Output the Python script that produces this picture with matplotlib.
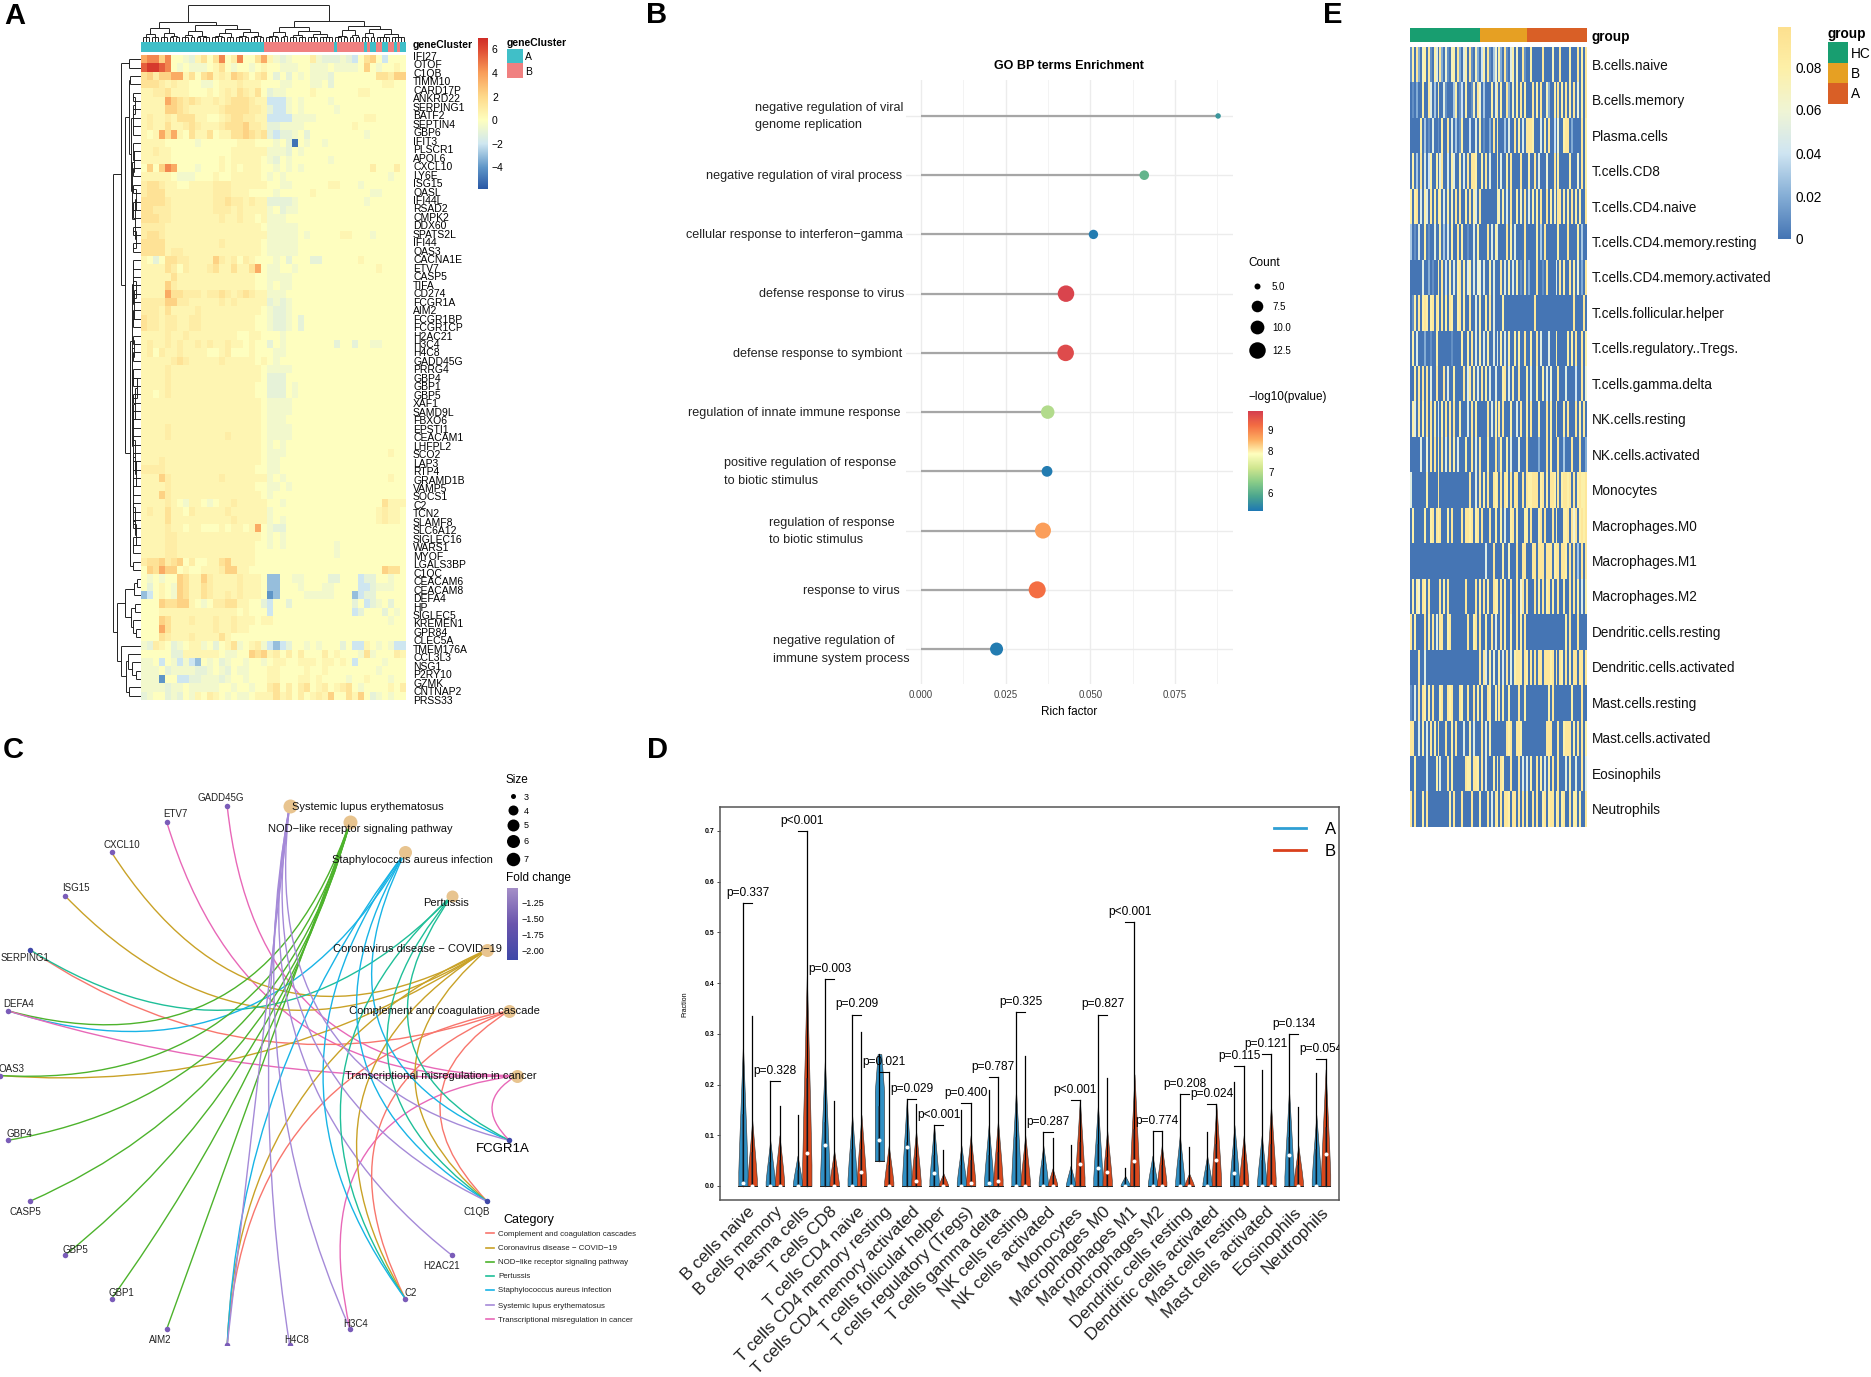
import numpy as np
import matplotlib
matplotlib.use("Agg")
import matplotlib.pyplot as plt
from matplotlib.colors import LinearSegmentedColormap, ListedColormap
from matplotlib.path import Path
from matplotlib.patches import PathPatch, Rectangle

W, H = 1871, 1377
plt.rcParams['font.family'] = ['Liberation Sans', 'DejaVu Sans']

# ---------- panel A data ----------
genes_a = ["IFI27", "OTOF", "C1QB", "TIMM10", "CARD17P", "ANKRD22", "SERPING1", "BATF2", "SEPTIN4", "GBP6",
           "IFIT3", "PLSCR1", "APOL6", "CXCL10", "LY6E", "ISG15", "OASL", "IFI44L", "RSAD2", "CMPK2", "DDX60",
           "SPATS2L", "IFI44", "OAS3", "CACNA1E", "ETV7", "CASP5", "TIFA", "CD274", "FCGR1A", "AIM2", "FCGR1BP",
           "FCGR1CP", "H2AC21", "H3C4", "H4C8", "GADD45G", "PRRG4", "GBP4", "GBP1", "GBP5", "XAF1", "SAMD9L",
           "FBXO6", "EPSTI1", "CEACAM1", "LHFPL2", "SCO2", "LAP3", "RTP4", "GRAMD1B", "VAMP5", "SOCS1", "C2",
           "TCN2", "SLAMF8", "SLC6A12", "SIGLEC16", "WARS1", "MYOF", "LGALS3BP", "C1QC", "CEACAM6", "CEACAM8",
           "DEFA4", "HP", "SIGLEC5", "KREMEN1", "GPR84", "CLEC5A", "TMEM176A", "CCL3L3", "NSG1", "P2RY10",
           "GZMK", "CNTNAP2", "PRSS33"]
# one letter per block of columns, a=-5 ... g=0 ... o=+6.5
heat_a_rows = [
    "lmmkmggfehjgjmgimggjl" "hfefgggifeeefedgjkgdggg",
    "noonmgfgfffghjgfggfgh" "ggfffggfffgffffgkgfgghg",
    "jkikkllhjgjkhihkjigij" "gegegfgfffegggggggjjikk",
    "jjjihihhggffghhhihhhg" "ggffgggffgegggggggghhgg",
    "hhiijhhhggghghihjihjg" "effgggghggggggghhgggggg",
    "hhhhlkjijihhihijjjihh" "dddfgfggggfgggggggggggg",
    "hhhhkkjihhhhhijjjjiih" "eddfgfgggggfggggggggggg",
    "hihhihjjjhhgghijjiihh" "ddddffffgggggggghhggggg",
    "hihhjhhijihhhijjjkiih" "eeffffgggggggghgggggggg",
    "hghljlhgjhhjghhjjkjij" "edeefgegggggggggfgggggg",
    "hhhhgggggfgggggghhhgg" "gfgeagfggfggggggggggggg",
    "hhihhgggggggggghhhhhh" "fffegfggggggggggggggggg",
    "hhhhhgggggggghghhhhhg" "fegfggggggfgggggggggggg",
    "gkgkmlgggfggghghghhhg" "gfgfgfgggggggggggigggig",
    "hhhhhgfffggghgghhhhhg" "fgfgggggggggggggggggfgg",
    "ijjihhgghhhhiiihhhhhh" "ggffgggggghhgggfggggggg",
    "ijjjhhhhhhhhiiihhhggg" "gfggggghgggggggggffgggg",
    "jjjjihhhhhhhiijiihihh" "eeeefgggggggggggfgggggg",
    "jjiiihhhhhhhiiihihhhh" "fgeffgggggggggggggggggg",
    "jjjiihhhhhhhhihhihhgh" "fffgggggggggggggggggggg",
    "iiiihhhhhhhhhhhhhhhhg" "fffffgggggggggggggggggg",
    "ijjihhhhhhhhhhhhhhhhh" "fffffgfggggghhgggfggggg",
    "jjjjhhhhhhhhhihhhhhhg" "fffffgggggggggggggggggg",
    "jjjjhiihhhhhhhhhhhhhg" "fffffgggggggggggggggggg",
    "hgegjjiihhhhkihigihgg" "gfgegggeegggggghggggggg",
    "hhhhjigihhhijhhjhhjlg" "ffggfggggggggggggghgggg",
    "hhhhhjhhhhhhhhhhhhhgg" "ffffggggggggggggggggggg",
    "hhhhkihhhhhhhhhhhhhgg" "fgffggggggggggggggggggg",
    "hhhhljjiiihiijihijihh" "fffgggggggggggggggggggg",
    "iiiikkiihhhhhihihhhhh" "efefggggggggggggggggggg",
    "iiihjhhhhihhhhhhhhhhg" "feefggggggggggggggggggg",
    "jiihiihhiihhhhhhhhhgg" "feefgegggggggggggggggg",
    "jiihiihhiihhhhhhhhhgg" "feefgegggggggggggggggg",
    "hhhhihhihhhhhhhhgghhg" "ggfgggggggggggggggggggg",
    "hihhihihhihihhihhghgg" "egfggggggggeggeggffgggg",
    "higihhihhhhgghiggghgg" "gffgggggggggggggggggggg",
    "hhhhhijihhhhhihhhhhgh" "gfgggggggggggggggggggg",
    "hhhhihhhhhhhhhhhhhhhg" "ffffggggggggggggggggggg",
    "hhhhihhhhhhhhhhhhhhhg" "eeegggggggggggggggggggg",
    "hhhhihhhhhhhhhhhhhhgg" "eeegfggggggggggggggggg",
    "hhghihhhhhhhhhhhhhhgg" "eeegfggggggggggggggggg",
    "hhhhhhhhhhhhhhhhhhhhg" "ffffggggggggggggggggggg",
    "hhhhhhhhhhhhhhhhhhhhg" "ffffggggggggggggggggggg",
    "hhhhhhhhhhhhhhhhhhhhg" "fffgggggggggggggggggggg",
    "hhhhihhhhhhhhhhhhhhhg" "ffffggggggggggggggggggg",
    "hhhhihhhhhhhhhihhhhhg" "ffffggggggggggggggggggg",
    "hhhhhhhhhhhhhhhhhhhhg" "fgfgggggggggggggggggggg",
    "hhhhhhhhhhhhhhhhhhhhg" "fffggggggggggggggggghgg",
    "hhhihhhhhhhhhhhhhhhhg" "ffggggggggggggggggggggg",
    "iiiihhhhhhhhhhhhhhhgg" "ffgggggggggggggggggggg",
    "hhhkihhhhhhhhihhhhhhh" "fgfggggggggggggggggghgg",
    "hhhhihhhhhhhhhhhhhhgg" "ffgfggggggggggggggggggg",
    "hhhkihhhhhhhhhhhhhhhg" "fggggggggggggggggggggg",
    "hhhhihgfhhgfghhihhhhh" "ggfggggggggggggggggjhhh",
    "hihhjhhgihhhhhihhhhhh" "fggggggggggggggggghihhg",
    "hhhhjhhhhhhhhhhihhhhh" "fgfggggggggggggggghihhg",
    "hhhhihhghhggghghhghlg" "feeggggggggggggggggggg",
    "hhhhiihhhhhhhhhhhhhhg" "fgfggggggggggggggggggg",
    "hhhhiihhhhhhhhhhhhhgg" "fgfggggggggfgggggggggg",
    "hhhhiihhhhhhhhhhhhhgg" "gggggggggggfgggggggggg",
    "ijjkijkgigghhjkhhhhgg" "gggggggggggggggggggggg",
    "gkjlkkghgghhhikkhhggg" "gggggggggggggggggggkjj",
    "gfgfggkjhhkihhhhihhhg" "ccggffggggeegggdeeggfgg",
    "geghgfkjhhjihhhhihhhg" "ccgggfgggffggggddefffgg",
    "cdghgfkjhhjihhihihhhg" "bcggggfffffgggcdeegggg",
    "gggkjjkkhgfgiijjhhgge" "dggeggggggggggegdefgegg",
    "ggghhhhhhhhhhhhhghggg" "dgggggggggggggdegggegfg",
    "gggkjhhhihhhihhihhhgh" "hgggggggggggggggggggfgg",
    "gggljhhhhhhhihhihhggg" "gggggggggggggggggggggg",
    "gggjihhhihhhhjhgggggg" "gggggggggggggggggggggg",
    "feihgefghhfgeghjfghif" "dcdeggfgfgggegddhgfgfdd",
    "gggggeehhhhhhgffggkjk" "higigigggighgggfjfgggih",
    "ffgdgfdfdcgfgefggfggf" "ghhgghhhghhghgdggggfgg",
    "fffgeffffeefgfegffggg" "hhgggghgghggggggggfggg",
    "fffbggddeefffefggfggg" "hhggghhghggggfgghgggfg",
    "ffffeffgfffffggfggfgg" "ijgigijghighijgfgggghgi",
    "efggefegfhgihgfgffghh" "hjhigighihkggjhkgefgfgg",
]
letter_values = dict(zip("abcdefghijklmno", [-5, -4, -3, -2, -1, -0.5, 0, 0.5, 0.9, 1.5, 2.2, 3.5, 4.5, 5.5, 6.5]))
# runs of the geneCluster strip
cluster_runs = [(0, 41), (1, 23), (0, 1), (1, 9), (0, 1), (1, 1), (0, 2), (1, 2), (0, 2), (1, 2), (0, 1), (1, 1), (0, 2)]

col_tree = (37.4,
            (20, (14, (8, 3, 3), (9, 3, (6, 2, 2))),
             (17, (11, (7, 3, 2), (6, 2, 3)), (13, (9, (6, 3, 2), (5, 2, 1)), (10, (6, 3, 2), (6, 3, 2))))),
            (21.5, (15, (10, (6, 3, 2), (6, 2, 1)), (11, (7, 3, 3), (8, (5, 2, 2), (5, 3, 2)))),
             (16, (12, (6, 3, 2), (7, 2, 2)), (13, (9, 3, 2), (8, (5, 3, 2), (5, 2, 3))))))
tree_a = (10.5, (8, (6, 2, 2), 2), (9, (7, 3, 2), (6, (5, 2, 3), (5, 2, 2))))
tree_b = (11.5, (9.5, (8, 2, (7, (5, 2, 2), 3)), (9, (7, 2, 2), (8.5, (6, (4, 3, 2), 3),
                                                                  (8, (6, 2, (5, 3, 3)), (6.5, 2, (5, 2, 3)))))), (8, 1, 1))
row_tree = (28, (20.4, (12.5, 1, 1), (16, (12, (11, 1, 1), tree_a), tree_b)),
            (24, (16, (7, (4, 1, 1), 1), (10, (6, 1, 1), (8, 1, (5, 1, 1)))),
             (20, 1, (15, (13, 1, (9, 1, (5, 1, 1))), (12, 1, 1)))))

# ---------- panel B data ----------
go_terms = ["negative regulation of viral\ngenome replication", "negative regulation of viral process",
            "cellular response to interferon\u2212gamma", "defense response to virus", "defense response to symbiont",
            "regulation of innate immune response", "positive regulation of response\nto biotic stimulus",
            "regulation of response\nto biotic stimulus", "response to virus",
            "negative regulation of\nimmune system process"]
rich_factor = [0.0877, 0.0659, 0.0509, 0.0428, 0.0427, 0.0374, 0.0372, 0.0360, 0.0343, 0.0223]
go_count = [4, 5.5, 5.3, 12, 12, 9, 6.5, 11.5, 12.5, 8.5]
go_logp = [5.6, 6.1, 5.2, 9.8, 9.7, 6.9, 5.2, 8.7, 9.2, 5.2]
go_label_right = [589, 588, 588, 593, 587, 583, 575, 571, 581, 603]

# ---------- panel C data ----------
# order round the circle, starting at the Transcriptional node, going clockwise
circle_nodes = ["Transcriptional misregulation in cancer", "FCGR1A", "C1QB", "H2AC21", "C2", "H3C4", "H4C8", "",
                "AIM2", "GBP1", "GBP5", "CASP5", "GBP4", "OAS3", "DEFA4", "SERPING1", "ISG15", "CXCL10", "ETV7",
                "GADD45G", "Systemic lupus erythematosus", "NOD\u2212like receptor signaling pathway",
                "Staphylococcus aureus infection", "Pertussis", "Coronavirus disease \u2212 COVID\u221219",
                "Complement and coagulation cascade"]
TM, SLE, NOD = circle_nodes[0], circle_nodes[20], circle_nodes[21]
STA, PER, COV, COM = circle_nodes[22], circle_nodes[23], circle_nodes[24], circle_nodes[25]
gene_edges = {"GADD45G": [TM], "ETV7": [TM], "CXCL10": [COV], "ISG15": [COV], "SERPING1": [COM, PER],
              "DEFA4": [STA, NOD, TM], "OAS3": [COV, NOD], "GBP4": [NOD], "CASP5": [NOD], "GBP5": [NOD],
              "GBP1": [NOD], "AIM2": [NOD], "": [COM, COV, STA, SLE], "H4C8": [SLE], "H3C4": [SLE, TM],
              "H2AC21": [SLE], "C2": [COM, COV, PER, STA], "C1QB": [COM, COV, PER, STA, SLE],
              "FCGR1A": [STA, SLE, PER, TM]}
edge_colors = {COM: "#f8766d", COV: "#c9a227", NOD: "#4db32c", PER: "#1fbf98", STA: "#18b4e6", SLE: "#a58ad8", TM: "#e868b8"}
fold_change = {"SERPING1": -2.0, "C1QB": -2.05, "FCGR1A": -2.0}
category_size = {SLE: 7, NOD: 7, STA: 6, PER: 5, COV: 6, COM: 6, TM: 6}
legend_categories = ["Complement and coagulation cascades", "Coronavirus disease \u2212 COVID\u221219",
                     "NOD\u2212like receptor signaling pathway", "Pertussis", "Staphylococcus aureus infection",
                     "Systemic lupus erythematosus", "Transcriptional misregulation in cancer"]

# ---------- panel D data ----------
cell_types = ["B cells naive", "B cells memory", "Plasma cells", "T cells CD8", "T cells CD4 naive",
              "T cells CD4 memory resting", "T cells CD4 memory activated", "T cells follicular helper",
              "T cells regulatory (Tregs)", "T cells gamma delta", "NK cells resting", "NK cells activated",
              "Monocytes", "Macrophages M0", "Macrophages M1", "Macrophages M2", "Dendritic cells resting",
              "Dendritic cells activated", "Mast cells resting", "Mast cells activated", "Eosinophils", "Neutrophils"]
max_a = [.557, .207, .139, .408, .338, .26, .171, .12, .149, .19, .342, .107, .08, .338, .036, .109, .182, .107, .204, .229, .30, .223]
max_b = [.335, .158, .70, .167, .303, .224, .162, .07, .163, .215, .256, .095, .169, .212, .52, .109, .077, .161, .236, .26, .156, .25]
fill_a = [.28, .09, .06, .25, .14, .26, .17, .12, .08, .12, .19, .08, .04, .16, .02, .06, .10, .06, .12, .10, .19, .14]
fill_b = [.13, .10, .42, .07, .14, .08, .11, .025, .10, .13, .10, .035, .17, .11, .22, .08, .025, .16, .10, .16, .08, .23]
med_a = [.005, 0, 0, .08, 0, .09, .077, .025, 0, .005, 0, 0, 0, .035, 0, 0, 0, 0, .025, 0, .062, 0]
med_b = [0, 0, .066, 0, .027, 0, .01, 0, .005, .01, 0, 0, .043, .027, .049, 0, 0, .051, 0, 0, 0, .064]
floor_a = [0, 0, 0, 0, 0, .05, 0, 0, 0, 0, 0, 0, 0, 0, 0, 0, 0, 0, 0, 0, 0, 0]
bracket_y = [.557, .207, .70, .408, .338, .224, .171, .12, .163, .215, .342, .107, .169, .338, .52, .109, .182, .161, .236, .26, .30, .25]
p_labels = ["p=0.337", "p=0.328", "p<0.001", "p=0.003", "p=0.209", "p=0.021", "p=0.029", "p<0.001", "p=0.400", "p=0.787",
            "p=0.325", "p=0.287", "p<0.001", "p=0.827", "p<0.001", "p=0.774", "p=0.208", "p=0.024", "p=0.115", "p=0.121",
            "p=0.134", "p=0.054"]

# ---------- panel E data ----------
cells_e = ["B.cells.naive", "B.cells.memory", "Plasma.cells", "T.cells.CD8", "T.cells.CD4.naive", "T.cells.CD4.memory.resting",
           "T.cells.CD4.memory.activated", "T.cells.follicular.helper", "T.cells.regulatory..Tregs.", "T.cells.gamma.delta",
           "NK.cells.resting", "NK.cells.activated", "Monocytes", "Macrophages.M0", "Macrophages.M1", "Macrophages.M2",
           "Dendritic.cells.resting", "Dendritic.cells.activated", "Mast.cells.resting", "Mast.cells.activated",
           "Eosinophils", "Neutrophils"]
# fraction x 100 for each sample, read from left to right: HC, then B, then A
frac_rows = [
    "180920780910850920610780920580910720" "480910360820910580700910" "080000090000700090000800090809",
    "010200800950308005100038014080017096" "030008059080092070809080" "009080900720080908090809060809",
    "000008030105001080090503018000400508" "010020908000305009080509" "998000508090040600899020000908",
    "080309050480080590050850080509099800" "809050008050080900009000" "800905000600090800000800060908",
    "808905085090809805080709090080908509" "000000008708050900807090" "508080900908070990808090808009",
    "301050080100500803050800908001005080" "000905085000090805000090" "000080309000000800009000080300",
    "000000500201008090408050890805805066" "050080500090508050801080" "200090010900005090800908060209",
    "018090898089098090809800890800900508" "008090500008000000000000" "000900000000000000000009000090",
    "080500020010080000000100008008090508" "050800505080508008080090" "080090500050008000008080900908",
    "008090909050090009050080000905908050" "908050050008905080090008" "050080080506000900050000400906",
    "085090809090805080909090080005090800" "000905080909000800509008" "090008000908009000809000908090",
    "000005006090908090509080500080090509" "000800090180080500060009" "000002000908000900300090009002",
    "500000008000009000000000000000900509" "080900989090980909900909" "889990890809980908998909089889",
    "080000080089098900080900009099890890" "900090080080500890800088" "090008909000908000889096908989",
    "000000000000000000000000000000000000" "005000900008007000900990" "009909990999089909980909030909",
    "080860980900000908090000000090000908" "090800988090800900906909" "000908090890800900800909080508",
    "908000090809050990089000000009008909" "008009050090800800908090" "000000000000000000080900090000",
    "000090050000000000000000000000000009" "095080600805090508998098" "090909909998909098090809909909",
    "105090980809000890098900098009009080" "800980080908008000090080" "000000000080900000000080000900",
    "990050805090809000900809000500805000" "905080000000098900998000" "000000000999000900899908090908",
    "008000005000080500090800000098809980" "905000808098000900090505" "080090805080900900050800500905",
    "909000809000000000008090009000090008" "000905098090998099090908" "009090089089908908900908808009",
]

# ---------- helpers ----------
fig = plt.figure(figsize=(W / 100, H / 100), dpi=100, facecolor="white")


def px_axes(x0, y0, x1, y1):
    ax = fig.add_axes([x0 / W, 1 - y1 / H, (x1 - x0) / W, (y1 - y0) / H])
    return ax


def put(x, y, s, size=8, ha="left", va="center", **kw):
    return fig.text(x / W, 1 - (y + 1) / H, s, fontsize=size, ha=ha, va=va, **kw)


def draw_tree(ax, node, counter, comb, horizontal):
    # returns (leaf position, height); horizontal=True means heights run along x
    def seg(p0, h0, p1, h1):
        if horizontal:
            ax.plot([h0, h1], [p0, p1], color="#222222", lw=0.7, solid_capstyle="butt")
        else:
            ax.plot([p0, p1], [h0, h1], color="#222222", lw=0.7, solid_capstyle="butt")

    if isinstance(node, int):
        start = counter[0]
        counter[0] += node
        if node == 1:
            return start + 0.5, 0
        for k in range(node):
            seg(start + k + 0.5, 0, start + k + 0.5, comb)
        seg(start + 0.5, comb, start + node - 0.5, comb)
        return start + node / 2, comb
    h, left, right = node
    p0, h0 = draw_tree(ax, left, counter, comb, horizontal)
    p1, h1 = draw_tree(ax, right, counter, comb, horizontal)
    seg(p0, h0, p0, h)
    seg(p1, h1, p1, h)
    seg(p0, h, p1, h)
    return (p0 + p1) / 2, h


def colorbar(x0, y0, x1, y1, cmap, vmin, vmax):
    ax = px_axes(x0, y0, x1, y1)
    ax.imshow(np.linspace(vmax, vmin, 256)[:, None], aspect="auto", cmap=cmap, vmin=vmin, vmax=vmax)
    ax.axis("off")
    return ax


overlay = px_axes(0, 0, W, H)
overlay.set_xlim(0, W)
overlay.set_ylim(H, 0)
overlay.axis("off")
overlay.set_zorder(5)
overlay.patch.set_alpha(0)


def d2s(d_px):
    return (d_px * 0.72) ** 2


for letter, lx, ly in [("A", 4, 15), ("B", 646, 14), ("C", 3, 749), ("D", 647, 749), ("E", 1323, 14)]:
    put(lx, ly, letter, size=21, fontweight="bold")

# ---------- A ----------
vmin_a, vmax_a = -5.8, 6.9
stops = [(-5.8, "#2a58a6"), (-4, "#5f96c8"), (-2, "#cfe7f1"), (0, "#ffffbf"), (2, "#fed98a"), (4, "#f99d59"), (6, "#df4a33"), (6.9, "#d02d27")]
cmap_a = LinearSegmentedColormap.from_list("a", [((v - vmin_a) / (vmax_a - vmin_a), c) for v, c in stops])
heat_a = np.array([[letter_values[c] for c in row.ljust(44, "g")[:44]] for row in heat_a_rows])

ax = px_axes(141, 55, 406, 700)
ax.imshow(heat_a, aspect="auto", cmap=cmap_a, vmin=vmin_a, vmax=vmax_a, interpolation="nearest")
ax.axis("off")

strip = np.concatenate([np.full(n, v) for v, n in cluster_runs])
ax = px_axes(141, 42, 406, 52)
ax.imshow(strip[None, :], aspect="auto", cmap=ListedColormap(["#40bfc8", "#f08080"]), interpolation="nearest")
ax.axis("off")

ax = px_axes(141, 3, 406, 42)
ax.set_xlim(0, len(strip))
ax.set_ylim(0, 39)
ax.axis("off")
draw_tree(ax, col_tree, [0], 5, False)

ax = px_axes(112, 55, 141, 700)
ax.set_xlim(29, 0)
ax.set_ylim(len(genes_a), 0)
ax.axis("off")
draw_tree(ax, row_tree, [0], 8, True)

for i, g in enumerate(genes_a):
    put(413, 56 + 8.47 * i, g, size=7.5)
put(413, 44, "geneCluster", size=7.5, fontweight="bold")
colorbar(478, 38, 488, 189, cmap_a, vmin_a, vmax_a)
for v, yy in zip([6, 4, 2, 0, -2, -4], [49, 73, 97, 120, 144, 167]):
    put(492, yy, str(v).replace("-", "\u2212"), size=7.5)
put(507, 42, "geneCluster", size=7.5, fontweight="bold")
overlay.add_patch(Rectangle((507, 49), 16, 14, color="#40bfc8", lw=0))
overlay.add_patch(Rectangle((507, 63), 16, 15, color="#f08080", lw=0))
put(525, 56, "A", size=7.5)
put(525, 71, "B", size=7.5)

# ---------- B ----------
cmap_b = LinearSegmentedColormap.from_list("b", ["#1f78b4", "#4aa58f", "#88cc88", "#d0e68f", "#ffffbf", "#fdae61", "#f46d43", "#d53e4f"])
vmin_b, vmax_b = 5.14, 9.9
ax = px_axes(906, 80, 1233, 684)
ax.set_xlim(-0.00443, 0.0921)
ax.set_ylim(0.41, 10.607)
rows_b = np.arange(10, 0, -1)
ax.set_xticks([0, .025, .05, .075])
ax.set_xticklabels(["0.000", "0.025", "0.050", "0.075"], fontsize=7, color="#444444")
ax.set_xticks([.0125, .0375, .0625, .0875], minor=True)
ax.set_yticks(rows_b)
ax.set_yticklabels([])
ax.grid(True, which="major", color="#ececec", lw=1)
ax.grid(True, which="minor", axis="x", color="#f3f3f3", lw=0.7)
ax.tick_params(which="both", length=0, pad=4)
ax.set_axisbelow(True)
for s in ax.spines.values():
    s.set_visible(False)
ax.hlines(rows_b, 0, rich_factor, color="#a6a6a6", lw=1.6)
size_d = np.interp(go_count, [4, 5, 7.5, 10, 12.5], [5.5, 9, 12, 14.5, 17])
ax.scatter(rich_factor, rows_b, s=d2s(size_d), c=go_logp, cmap=cmap_b, vmin=vmin_b, vmax=vmax_b, zorder=3, linewidths=0)
for term, yy, zr in zip(go_terms, rows_b, go_label_right):
    put(640 + zr / 2.24, 684 - (yy - 0.41) * 59.3, term, size=9.05, ha="right", ma="left", color="#222222", linespacing=1.6)
put(1069, 65, "GO BP terms Enrichment", size=9, ha="center", fontweight="bold")
put(1069, 711, "Rich factor", size=8.5, ha="center")
put(1248, 262, "Count", size=8.5)
for cnt, yy, d in zip(["5.0", "7.5", "10.0", "12.5"], [286, 306, 327, 350], [6, 11.6, 13.8, 16.5]):
    overlay.scatter([1257], [yy], s=d2s(d), color="black", linewidths=0)
    put(1272, yy, cnt, size=7)
put(1248, 396, "\u2212log10(pvalue)", size=8.5)
colorbar(1248, 411, 1263, 511, cmap_b, vmin_b, vmax_b)
for v, yy in zip([9, 8, 7, 6], [430, 451, 472, 493]):
    put(1268, yy, str(v), size=7)

# ---------- C ----------
cx, cy, rx, ry = 258.4, 1075.5, 258.4, 271
ax = px_axes(0, 730, 660, 1345)
ax.set_xlim((0 - cx) / rx, (660 - cx) / rx)
ax.set_ylim((cy - 1345) / ry, (cy - 730) / ry)
ax.axis("off")
angles = -np.arange(len(circle_nodes)) * 2 * np.pi / len(circle_nodes)
node_xy = {n: (np.cos(a), np.sin(a)) for n, a in zip(circle_nodes, angles)}
for gene, cats in gene_edges.items():
    p0 = np.array(node_xy[gene])
    for cat in cats:
        p1 = np.array(node_xy[cat])
        mid = (p0 + p1) / 2
        ctrl = mid - 0.68 * np.linalg.norm(p1 - p0) * mid
        patch = PathPatch(Path([p0, ctrl, p1], [Path.MOVETO, Path.CURVE3, Path.CURVE3]), fc="none",
                          ec=edge_colors[cat], lw=1.0)
        ax.add_patch(patch)
for n, (x, y) in node_xy.items():
    if n in category_size:
        ax.scatter([x], [y], s=d2s(7 + 1.0 * category_size[n]), color="#e8c48f", linewidths=0, zorder=3)
    else:
        col = "#3f48a8" if n in fold_change else "#7a5cb8"
        ax.scatter([x], [y], s=d2s(5.5), color=col, linewidths=0, zorder=3)

gene_labels = [("GADD45G", 524, 163), ("ETV7", 417, 200), ("CXCL10", 289, 275), ("ISG15", 180, 380), ("SERPING1", 60, 550),
               ("DEFA4", 45, 660), ("OAS3", 28, 818), ("GBP4", 45, 976), ("CASP5", 60, 1163), ("GBP5", 180, 1255),
               ("GBP1", 289, 1360), ("AIM2", 381, 1473), ("H4C8", 705, 1473), ("H3C4", 846, 1435), ("C2", 976, 1360),
               ("H2AC21", 1049, 1294), ("C1QB", 1132, 1163)]
for name, zx, zy in gene_labels:
    put(zx / 2.376, 730 + zy / 2.42, name, size=7, ha="center", color="#222222")
put(1195 / 2.376, 730 + 1012 / 2.42, "FCGR1A", size=9.5, ha="center")
cat_labels = [(SLE, 875, 184), (NOD, 857, 238), (STA, 981, 312), (PER, 1060, 417), (COV, 992, 528), (COM, 1056, 678), (TM, 1047, 836)]
for name, zx, zy in cat_labels:
    put(zx / 2.376, 730 + zy / 2.42, name, size=8, ha="center", color="#111111")
put(506, 779, "Size", size=8.5)
for lab, yy, d in zip(["3", "4", "5", "6", "7"], [796, 810, 825, 841, 859], [5, 10, 12, 13, 13.5]):
    overlay.scatter([513.5], [yy], s=d2s(d), color="black", linewidths=0)
    put(524, yy, lab, size=6.5)
put(506, 877.5, "Fold change", size=8.5)
cmap_c = LinearSegmentedColormap.from_list("c", ["#3f48a8", "#6a55ad", "#a58fc8"])
colorbar(507, 888, 518, 960, cmap_c, -2.14, -1.015)
for lab, yy in zip(["\u22121.25", "\u22121.50", "\u22121.75", "\u22122.00"], [903, 919, 935, 951]):
    put(521, yy, lab, size=6.5)
put(503, 1219, "Category", size=9)
for lab, cat, yy in zip(legend_categories, [COM, COV, NOD, PER, STA, SLE, TM], [1233, 1248, 1262, 1276, 1290, 1305, 1319]):
    overlay.plot([486, 494], [yy, yy], color=edge_colors[cat], lw=1.2)
    put(498, yy, lab, size=5.7, color="#222222")

# ---------- D ----------
ax = px_axes(720, 807, 1339, 1200)
ax.set_xlim(-1.01, 21.66)
ax.set_ylim(-0.0276, 0.747)
off = 0.17
half = 0.17
frac_prof = [0, 0.1, 0.35, 0.65, 1]
width_prof = [1, 1, 0.75, 0.4, 0]
for i in range(len(cell_types)):
    for xc, top, fill, med, low, col in [(i - off, max_a[i], fill_a[i], med_a[i], floor_a[i], "#2f8fc4"),
                                         (i + off, max_b[i], fill_b[i], med_b[i], 0, "#d9481c")]:
        yy = low + np.array(frac_prof) * (fill - low)
        ww = half * np.array(width_prof)
        if low > 0:
            ww = np.array([half, half, half, half, 0.4 * half])
        ax.fill_betweenx(yy, xc - ww, xc + ww, color=col, lw=0.4, ec="#333333", zorder=2)
        ax.plot([xc, xc], [low, top], color="black", lw=0.9, zorder=3)
        ax.plot([xc, xc], [low, low + 0.5 * (fill - low)], color="#1a2a3a", lw=1.2, alpha=0.6, zorder=3)
        ax.plot([xc - half, xc + half], [low, low], color="#222222", lw=0.7, zorder=3)
        ax.scatter([xc], [med], s=d2s(4), color="white", linewidths=0, zorder=4)
    ax.plot([i - off, i + off], [bracket_y[i], bracket_y[i]], color="black", lw=0.8, zorder=3)
    ax.text(i, bracket_y[i] + 0.02, p_labels[i], fontsize=8.6, ha="center", va="center", clip_on=True, zorder=5)
ax.set_xticks(range(len(cell_types)))
ax.set_xticklabels(cell_types, rotation=45, ha="right", rotation_mode="anchor", fontsize=12.4, color="#222222")
ax.tick_params(axis="x", length=0, pad=3)
ax.set_yticks([0, .1, .2, .3, .4, .5, .6, .7])
ax.set_yticklabels(["0.0", "0.1", "0.2", "0.3", "0.4", "0.5", "0.6", "0.7"], fontsize=5, fontweight="bold")
ax.tick_params(axis="y", length=2, width=0.5, pad=2)
for s in ax.spines.values():
    s.set_color("#555555")
    s.set_linewidth(1.1)
put(685, 1003, "Fraction", size=5, rotation=90, ha="center")
overlay.plot([1274, 1306], [828, 828], color="#2f9fd4", lw=2)
overlay.plot([1274, 1306], [849.5, 849.5], color="#d9401c", lw=2)
put(1325, 828, "A", size=12)
put(1325, 850, "B", size=12)

# ---------- E ----------
stops_e = [(0, "#4575b4"), (.02, "#85aed6"), (.04, "#cfe5f2"), (.06, "#f0f5d5"), (.08, "#fdf0a8"), (.099, "#fde08f")]
cmap_e = LinearSegmentedColormap.from_list("e", [(v / .099, c) for v, c in stops_e])
heat_e = np.array([[int(c) / 100 for c in row.ljust(90, "0")[:90]] for row in frac_rows])
ax = px_axes(1410, 47, 1587, 827)
ax.imshow(heat_e, aspect="auto", cmap=cmap_e, vmin=0, vmax=.099, interpolation="nearest")
ax.axis("off")
group_runs = [(0, 70), (1, 47), (2, 60)]
group_strip = np.concatenate([np.full(n, v) for v, n in group_runs])
ax = px_axes(1410, 28, 1587, 42)
ax.imshow(group_strip[None, :], aspect="auto", cmap=ListedColormap(["#189e70", "#e6a023", "#d95f26"]), interpolation="nearest")
ax.axis("off")
for i, c in enumerate(cells_e):
    put(1592, 47 + 35.45 * (i + 0.5), c, size=9.8, color="#111111")
put(1592, 36, "group", size=9.8, fontweight="bold")
colorbar(1778, 27, 1791, 239, cmap_e, 0, .0989)
for lab, yy in zip(["0.08", "0.06", "0.04", "0.02", "0"], [68, 110, 154, 197, 239]):
    put(1796, yy, lab, size=9.8)
put(1828, 33, "group", size=9.8, fontweight="bold")
for lab, col, y0 in zip(["HC", "B", "A"], ["#189e70", "#e6a023", "#d95f26"], [42, 63, 83]):
    overlay.add_patch(Rectangle((1828, y0), 20, 20.5, color=col, lw=0))
    put(1851, y0 + 10.5, lab, size=9.8)

plt.savefig("out.png", dpi=100)
